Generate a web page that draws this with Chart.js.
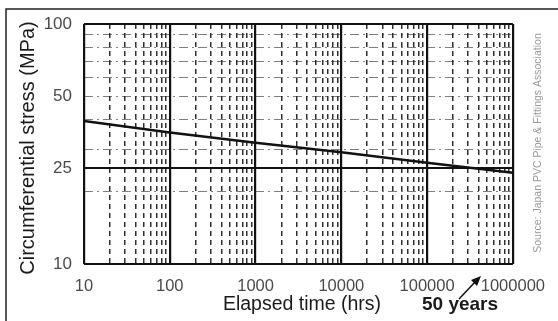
<!DOCTYPE html>
<html><head><meta charset="utf-8">
<script src="https://cdn.jsdelivr.net/npm/chart.js@4/dist/chart.umd.min.js"></script>
<style>html,body{margin:0;padding:0;background:#fff;overflow:hidden}</style>
</head><body>
<canvas id="c" width="558" height="321" style="display:block;width:558px;height:321px"></canvas>
<script>
// ---- data ----
const timeLabels = [10, 100, 1000, 10000, 100000, 1000000];          // elapsed time (hrs), decade ticks
const stressValues = [39.4, 35.3, 32.0, 29.2, 26.4, 24.0];            // circumferential stress (MPa)
const yTickLabels = [10, 25, 50, 100];
const yGridValues = [10, 20, 25, 30, 40, 50, 60, 70, 80, 90, 100];
const ySolidLines = [10, 25, 100];
const minorMultipliers = [2, 3, 4, 5, 6, 7, 8, 9];
const xGridValues = [];
timeLabels.forEach((d, i) => {
  xGridValues.push(d);
  if (i < timeLabels.length - 1) minorMultipliers.forEach(m => xGridValues.push(m * d));
});

const FONT = "'Liberation Sans', Arial, sans-serif";

const decor = {
  id: 'decor',
  beforeDraw(chart) {
    const ctx = chart.ctx;
    ctx.save();
    ctx.fillStyle = '#fff';
    ctx.fillRect(0, 0, chart.width, chart.height);
    ctx.restore();
  },
  afterDraw(chart) {
    const ctx = chart.ctx;
    ctx.save();
    // frame
    ctx.strokeStyle = '#222';
    ctx.lineWidth = 1.5;
    ctx.strokeRect(6, 9, 600, 400);
    // y title
    ctx.fillStyle = '#1a1a1a';
    ctx.textAlign = 'center';
    ctx.textBaseline = 'middle';
    ctx.save();
    ctx.translate(28, 148);
    ctx.rotate(-Math.PI / 2);
    ctx.font = '20px ' + FONT;
    ctx.fillText('Circumferential stress (MPa)', 0, 0);
    ctx.restore();
    // x title
    ctx.font = '19.5px ' + FONT;
    ctx.fillText('Elapsed time (hrs)', 302, 305);
    // 50 years
    ctx.font = 'bold 19px ' + FONT;
    ctx.fillText('50 years', 460, 305);
    // arrow
    ctx.strokeStyle = '#111';
    ctx.lineWidth = 1.5;
    ctx.beginPath();
    ctx.moveTo(459, 299);
    ctx.lineTo(476, 281);
    ctx.stroke();
    ctx.beginPath();
    ctx.moveTo(481, 276);
    ctx.lineTo(471, 280);
    ctx.lineTo(477, 286);
    ctx.closePath();
    ctx.fillStyle = '#111';
    ctx.fill();
    // source
    ctx.save();
    ctx.translate(538, 143);
    ctx.rotate(-Math.PI / 2);
    ctx.font = '10.5px ' + FONT;
    ctx.fillStyle = '#9a9a9a';
    ctx.fillText('Source: Japan PVC Pipe & Fittings Association', 0, 0);
    ctx.restore();
    ctx.restore();
  }
};

new Chart(document.getElementById('c'), {
  type: 'line',
  data: {
    datasets: [{
      data: timeLabels.map((t, i) => ({ x: t, y: stressValues[i] })),
      borderColor: '#111',
      borderWidth: 2.5,
      pointRadius: 0,
      tension: 0
    }]
  },
  options: {
    responsive: false,
    animation: false,
    devicePixelRatio: 1,
    layout: { padding: { left: 0, right: 38, top: 24, bottom: 0 } },
    plugins: { legend: { display: false }, tooltip: { enabled: false } },
    scales: {
      x: {
        type: 'logarithmic',
        min: 10, max: 1000000,
        afterBuildTicks: s => { s.ticks = xGridValues.map(v => ({ value: v })); },
        afterFit: s => { s.height = 57; },
        ticks: {
          autoSkip: false, maxRotation: 0, minRotation: 0, padding: 13,
          color: '#4a4a4a',
          font: { family: FONT, size: 16.5 },
          callback: v => timeLabels.includes(v) ? String(v) : ''
        },
        grid: {
          drawTicks: false,
          color: c => timeLabels.includes(c.tick && c.tick.value) ? '#111' : 'rgba(10,10,10,0.85)',
          lineWidth: c => timeLabels.includes(c.tick && c.tick.value) ? 2.2 : 1.5
        },
        border: {
          display: false,
          dash: c => timeLabels.includes(c.tick && c.tick.value) ? [] : [5, 4]
        }
      },
      y: {
        type: 'logarithmic',
        min: 10, max: 100,
        afterBuildTicks: s => { s.ticks = yGridValues.map(v => ({ value: v })); },
        afterFit: s => { s.width = 84; },
        ticks: {
          autoSkip: false, padding: 12,
          color: '#4a4a4a',
          font: { family: FONT, size: 17 },
          callback: v => yTickLabels.includes(v) ? String(v) : ''
        },
        grid: {
          drawTicks: false,
          color: c => ySolidLines.includes(c.tick && c.tick.value) ? '#111' : 'rgba(40,40,40,0.6)',
          lineWidth: c => ySolidLines.includes(c.tick && c.tick.value) ? 2 : 1
        },
        border: {
          display: false,
          dash: c => ySolidLines.includes(c.tick && c.tick.value) ? [] : [9, 4, 2, 4]
        }
      }
    }
  },
  plugins: [decor]
});
</script>
</body></html>
